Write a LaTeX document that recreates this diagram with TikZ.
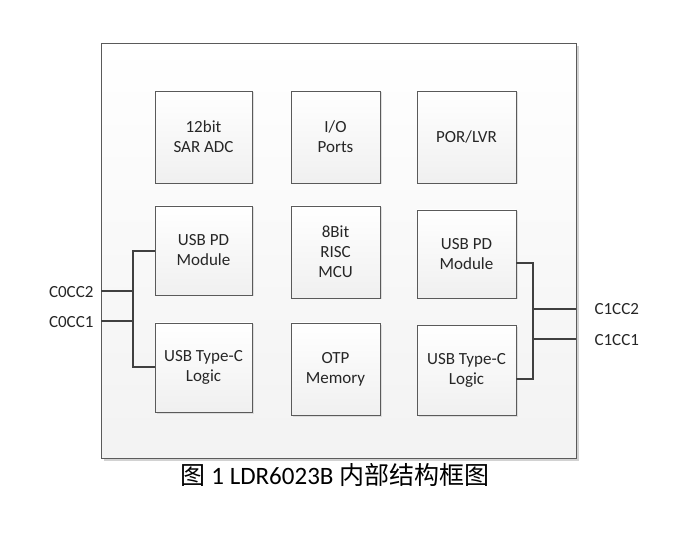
\documentclass[tikz,border=0pt]{standalone}
\usepackage{fontspec}
\setmainfont{Carlito}
\newfontfamily\cjk{Noto Sans CJK SC}
\usetikzlibrary{shadows}
\definecolor{edgegray}{HTML}{5A5A5A}
\definecolor{wire}{HTML}{404040}
\tikzset{
  blk/.style={draw=edgegray, line width=0.9pt, top color=white, bottom color=gray!12,
    align=center, font=\fontsize{17}{20}\selectfont, text=black!85,
    drop shadow={shadow xshift=1.5pt, shadow yshift=-1.5pt, fill=gray!40, opacity=0.6}},
  conn/.style={draw=wire, line width=1.6pt},
  lbl/.style={font=\fontsize{17}{20}\selectfont, text=black!85},
}
\begin{document}
\begin{tikzpicture}[x=1pt,y=-1pt]
\useasboundingbox (0,0) rectangle (688,537);
\fill[white] (0,0) rectangle (688,537);
% outer frame
\fill[gray!35] (104,46) rectangle (579,461);
\shade[top color=white, bottom color=gray!10] (101,43) rectangle (576,458);
\draw[edgegray, line width=0.9pt] (101,43) rectangle (576,458);
% blocks
\node[blk, minimum width=97pt, minimum height=92pt] (adc) at (203.5,137) {12bit\\SAR ADC};
\node[blk, minimum width=89pt, minimum height=92pt] (io) at (335.5,137) {I/O\\Ports};
\node[blk, minimum width=99pt, minimum height=92pt] (por) at (466.5,137) {POR/LVR};
\node[blk, minimum width=97pt, minimum height=89pt] (pdl) at (203.5,250.5) {USB PD\\Module};
\node[blk, minimum width=89pt, minimum height=92pt] (mcu) at (335.5,252) {8Bit\\RISC\\MCU};
\node[blk, minimum width=99pt, minimum height=88pt] (pdr) at (466.5,254) {USB PD\\Module};
\node[blk, minimum width=97pt, minimum height=89pt] (tcl) at (203.5,367.5) {USB Type-C\\Logic};
\node[blk, minimum width=89pt, minimum height=92pt] (otp) at (335.5,369) {OTP\\Memory};
\node[blk, minimum width=99pt, minimum height=90pt] (tcr) at (466.5,370) {USB Type-C\\Logic};
% left connections
\coordinate (lt) at (133,251);
\coordinate (lb) at (133,367);
\coordinate (l2) at (101,291);
\coordinate (l1) at (101,321);
\draw[conn] (pdl.west |- lt) -- (lt) -- (lb) -- (tcl.west |- lb);
\draw[conn] (l2) -- (133,291);
\draw[conn] (l1) -- (133,321);
\node[lbl, anchor=east] (c0cc2) at (97,292) {C0CC2};
\node[lbl, anchor=east] (c0cc1) at (97,322) {C0CC1};
% right connections
\coordinate (rt) at (533,263);
\coordinate (rb) at (533,379);
\coordinate (r2) at (576,309);
\coordinate (r1) at (576,339);
\draw[conn] (pdr.east |- rt) -- (rt) -- (rb) -- (tcr.east |- rb);
\draw[conn] (533,309) -- (r2);
\draw[conn] (533,339) -- (r1);
\node[lbl, anchor=west] (c1cc2) at (591,309) {C1CC2};
\node[lbl, anchor=west] (c1cc1) at (591,340) {C1CC1};
% caption
\node[font=\fontsize{25}{29}\selectfont] (cap) at (335,475) {{\cjk 图} 1 LDR6023B {\cjk 内部结构框图}};
\end{tikzpicture}
\end{document}
